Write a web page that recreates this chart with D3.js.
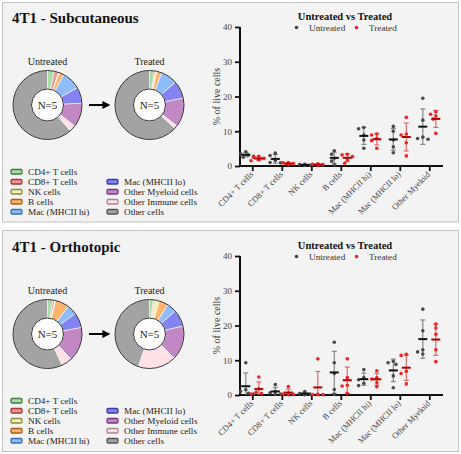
<!DOCTYPE html>
<html><head><meta charset="utf-8">
<script src="https://cdn.jsdelivr.net/npm/d3@7"></script>
<style>
html,body{margin:0;padding:0;background:#fff;}
svg text{font-family:"Liberation Serif","Times New Roman",Times,Tinos,"DejaVu Serif",serif !important;}
</style></head>
<body>
<svg id="c" width="461" height="454"></svg>
<script>
// ---------- data ----------
const panelTitles = ["4T1 - Subcutaneous", "4T1 - Orthotopic"];
const cellTypes = ["CD4+ T cells","CD8+ T cells","NK cells","B cells","Mac (MHCII hi)","Mac (MHCII lo)","Other Myeloid cells","Other Immune cells","Other cells"];
const cellColors = ["#a9dca8","#f39191","#eef0b0","#ffb46e","#8fbdfc","#8383f4","#c288c6","#fde1e7","#a3a3a3"];
const cellStrokes = ["#3f7a3f","#a33a3a","#8a8a40","#a86018","#3b6fb0","#3a3aa8","#7a3a80","#a88890","#555555"];

// donut composition (% of live cells)
const subDonutUntreated   = [3.2, 2.0, 0.4, 2.3, 8.7, 7.6, 11.3, 3.0, 61.5];
const subDonutTreated     = [2.3, 0.7, 0.4, 2.4, 7.7, 8.3, 13.6, 1.5, 63.1];
const orthoDonutUntreated = [2.5, 1.0, 0.4, 6.4, 4.6, 7.1, 16.1, 5.0, 56.9];
const orthoDonutTreated   = [1.7, 0.7, 2.2, 4.3, 4.5, 7.9, 16.0, 18.0, 44.7];

const categories = ["CD4+ T cells","CD8+ T cells","NK cells","B cells","Mac (MHCII hi)","Mac (MHCII lo)","Other Myeloid"];
const yTicks = [0, 10, 20, 30, 40];

// individual mice (N=5), % of live cells
const subUntreated = [
  [4.1, 3.5, 3.2, 2.8, 2.5],
  [3.7, 3.0, 1.6, 1.0, 0.9],
  [0.5, 0.4, 0.3, 0.2, 0.2],
  [4.4, 3.4, 2.2, 1.4, 0.3],
  [11.1, 10.7, 8.9, 7.5, 5.1],
  [11.4, 10.0, 7.5, 5.5, 3.8],
  [19.5, 13.2, 8.3, 7.9, 7.7]
];
const subTreated = [
  [2.8, 2.5, 2.2, 1.8, 1.5],
  [1.0, 0.9, 0.7, 0.5, 0.4],
  [0.6, 0.5, 0.4, 0.3, 0.2],
  [3.4, 3.2, 2.7, 1.7, 0.8],
  [9.2, 8.9, 8.0, 7.3, 5.1],
  [14.0, 9.2, 8.9, 6.7, 2.9],
  [15.6, 14.9, 14.4, 13.5, 9.4]
];
const orthoUntreated = [
  [9.3, 1.5, 1.0, 0.5, 0.3],
  [3.0, 1.0, 0.6, 0.3, 0.2],
  [1.0, 0.4, 0.3, 0.2, 0.1],
  [15.2, 9.3, 6.2, 1.6, 0.2],
  [7.3, 5.0, 4.4, 3.4, 2.7],
  [9.7, 9.3, 8.8, 5.5, 2.1],
  [24.7, 18.5, 13.0, 12.4, 11.8]
];
const orthoTreated = [
  [5.2, 1.8, 0.8, 0.4, 0.3],
  [2.4, 0.5, 0.3, 0.2, 0.1],
  [10.4, 0.2, 0.1, 0.1, 0.1],
  [10.4, 5.0, 2.8, 2.6, 0.5],
  [7.0, 5.0, 4.6, 3.6, 2.4],
  [11.7, 11.4, 6.8, 6.2, 3.2],
  [20.4, 19.3, 17.5, 13.0, 9.6]
];

const panels = [
  {title: panelTitles[0], oy: 0, rect: [2.5, 2.5, 456, 219.5], donuts: [subDonutUntreated, subDonutTreated], unt: subUntreated, trt: subTreated},
  {title: panelTitles[1], oy: 229, rect: [2.5, 230.5, 456, 221], donuts: [orthoDonutUntreated, orthoDonutTreated], unt: orthoUntreated, trt: orthoTreated}
];

// ---------- drawing ----------
const svg = d3.select("#c");
const defs = svg.append("defs");
defs.append("marker").attr("id","arrow").attr("viewBox","0 0 10 10").attr("refX",2).attr("refY",5)
  .attr("markerWidth",4).attr("markerHeight",4).attr("orient","auto")
  .append("path").attr("d","M0,0 L10,5 L0,10 z").attr("fill","#000");

const mean = a => d3.mean(a);
const sd = a => d3.deviation(a);

panels.forEach(p => {
  const g = svg.append("g");
  const [rx, ry, rw, rh] = p.rect;
  g.append("rect").attr("x", rx).attr("y", ry).attr("width", rw).attr("height", rh)
    .attr("fill", "#f3f3f3").attr("stroke", "#c4c4c4").attr("stroke-width", 1);

  const G = g.append("g").attr("transform", `translate(0,${p.oy})`);

  G.append("text").attr("x", 12).attr("y", 23).attr("font-size", 15).attr("font-weight", "bold")
    .attr("fill", "#111").text(p.title);

  // donuts
  const pie = d3.pie().sort(null).value(d => d);
  const arc = d3.arc().innerRadius(16).outerRadius(34.5);
  const centers = [47.5, 149.5];
  const labels = ["Untreated", "Treated"];
  p.donuts.forEach((vals, i) => {
    const dg = G.append("g").attr("transform", `translate(${centers[i]},105)`);
    dg.selectAll("path").data(pie(vals)).join("path")
      .attr("d", arc).attr("fill", (d, j) => cellColors[j])
      .attr("stroke", "#fff").attr("stroke-width", 0.6);
    dg.append("circle").attr("r", 34.5).attr("fill", "none").attr("stroke", "#333").attr("stroke-width", 1);
    dg.append("circle").attr("r", 16).attr("fill", "#fff").attr("stroke", "#333").attr("stroke-width", 1);
    dg.append("text").attr("text-anchor", "middle").attr("y", 4).attr("font-size", 11).attr("fill", "#222").text("N=5");
    G.append("text").attr("x", centers[i]).attr("y", 65).attr("text-anchor", "middle")
      .attr("font-size", 10).attr("fill", "#222").text(labels[i]);
  });
  G.append("line").attr("x1", 89).attr("x2", 104).attr("y1", 105).attr("y2", 105)
    .attr("stroke", "#000").attr("stroke-width", 2).attr("marker-end", "url(#arrow)");

  // legend
  cellTypes.forEach((name, i) => {
    const col = i < 5 ? 0 : 1;
    const row = i < 5 ? i : i - 4;
    const lx = col === 0 ? 11 : 107;
    const ly = 172 + row * 10;
    G.append("rect").attr("x", lx).attr("y", ly - 2.5).attr("width", 11).attr("height", 4.5).attr("rx", 1.2)
      .attr("fill", cellColors[i]).attr("stroke", cellStrokes[i]).attr("stroke-width", 1.3);
    G.append("text").attr("x", lx + 17).attr("y", ly + 3).attr("font-size", 9.2).attr("fill", "#222").text(name);
  });

  // scatter plot
  const y = d3.scaleLinear().domain([0, 40]).range([166, 27]);
  const x = d3.scalePoint().domain(categories).range([252.3, 429.3]);
  const axisG = G.append("g");
  axisG.append("g").attr("transform", "translate(240,0)")
    .call(d3.axisLeft(y).tickValues(yTicks).tickSize(5).tickPadding(3))
    .call(a => {
      a.select(".domain").attr("stroke", "#111").attr("stroke-width", 2).attr("d", "M0,27V166");
      a.selectAll(".tick line").attr("stroke", "#111").attr("stroke-width", 1.8);
      a.selectAll("text").attr("font-size", 9).attr("fill", "#444");
    });
  axisG.append("g").attr("transform", "translate(0,166)")
    .call(d3.axisBottom(x).tickSize(5).tickPadding(3))
    .call(a => {
      a.select(".domain").attr("stroke", "#111").attr("stroke-width", 2).attr("d", "M239,0H443");
      a.selectAll(".tick line").attr("stroke", "#111").attr("stroke-width", 1.8);
      a.selectAll("text").attr("font-size", 8.5).attr("fill", "#444")
        .attr("text-anchor", "end").attr("dy", 0).attr("y", 0)
        .attr("transform", "translate(1,9) rotate(-45)");
    });
  G.append("text").attr("transform", "translate(220,96.5) rotate(-90)").attr("text-anchor", "middle")
    .attr("font-size", 10).attr("fill", "#333").text("% of live cells");

  // title + legend
  G.append("text").attr("x", 345).attr("y", 20).attr("text-anchor", "middle").attr("font-size", 10.5)
    .attr("font-weight", "bold").attr("fill", "#111").text("Untreated vs Treated");
  G.append("circle").attr("cx", 296.5).attr("cy", 27.5).attr("r", 1.8).attr("fill", "#444");
  G.append("text").attr("x", 309).attr("y", 30.5).attr("font-size", 9.2).attr("fill", "#333").text("Untreated");
  G.append("circle").attr("cx", 356.5).attr("cy", 27.5).attr("r", 1.8).attr("fill", "#f02020");
  G.append("text").attr("x", 369).attr("y", 30.5).attr("font-size", 9.2).attr("fill", "#333").text("Treated");

  const groups = [
    {data: p.unt, dx: -6.5, pt: "#4a4a4a", bar: "#888", mn: "#111"},
    {data: p.trt, dx: 6.5, pt: "#f52020", bar: "#e46a6a", mn: "#b00000"}
  ];
  groups.forEach(gr => {
    gr.data.forEach((vals, ci) => {
      const cx = x(categories[ci]) + gr.dx;
      const m = mean(vals), s = sd(vals);
      const eg = G.append("g");
      eg.append("line").attr("x1", cx).attr("x2", cx).attr("y1", y(Math.max(0, m - s))).attr("y2", y(m + s))
        .attr("stroke", gr.bar).attr("stroke-width", 1.2);
      [m + s, m - s].forEach(v => {
        if (v < 0) return;
        eg.append("line").attr("x1", cx - 2.5).attr("x2", cx + 2.5).attr("y1", y(v)).attr("y2", y(v))
          .attr("stroke", gr.bar).attr("stroke-width", 1.2);
      });
      // simple beeswarm placement
      const placed = [];
      const offs = [0, -2.6, 2.6, -5.2, 5.2, -7.8, 7.8];
      vals.map(v => v).sort((a, b) => b - a).forEach(v => {
        const py = y(v);
        let px = cx;
        for (const o of offs) {
          if (placed.every(q => Math.hypot(q[0] - (cx + o), q[1] - py) >= 3.6)) { px = cx + o; break; }
        }
        placed.push([px, py]);
      });
      eg.selectAll("circle").data(placed).join("circle")
        .attr("cx", d => d[0]).attr("cy", d => d[1]).attr("r", 1.8).attr("fill", gr.pt);
      eg.append("line").attr("x1", cx - 4.5).attr("x2", cx + 4.5).attr("y1", y(m)).attr("y2", y(m))
        .attr("stroke", gr.mn).attr("stroke-width", 2);
    });
  });
});
</script>
</body></html>
